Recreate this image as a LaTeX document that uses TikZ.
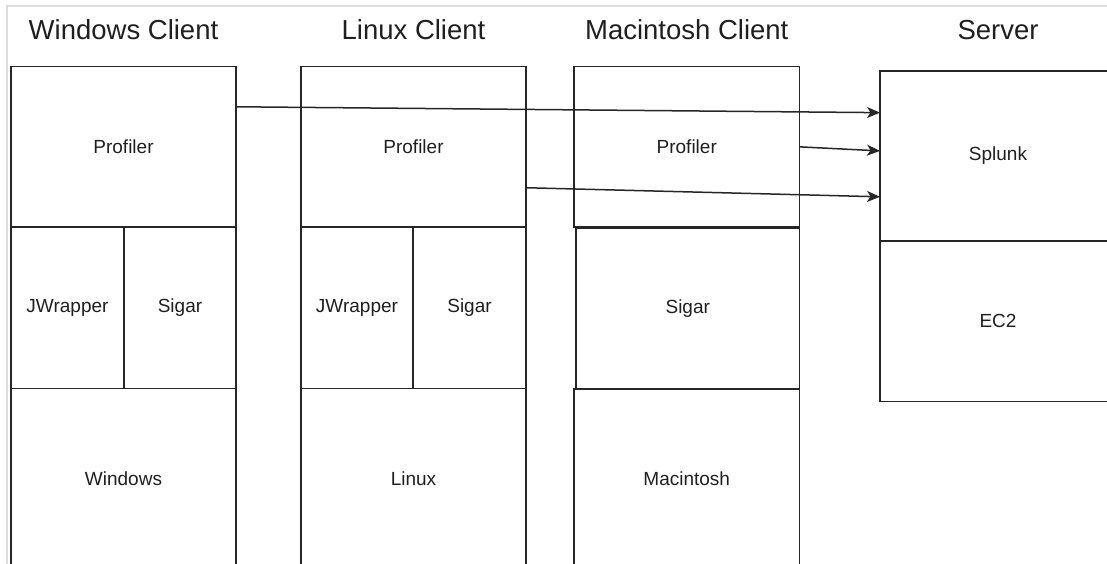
\documentclass[tikz,border=0pt]{standalone}
\usepackage{fontspec}
\setmainfont{Liberation Sans}
\usetikzlibrary{arrows.meta,calc}
\tikzset{
  box/.style={draw=black!85, line width=1.6pt, rectangle, inner sep=0pt, outer sep=0pt,
    font=\fontsize{19}{22}\selectfont, text=black!88},
  title/.style={font=\fontsize{27.5}{32}\selectfont, text=black!88, inner sep=0pt},
  frameline/.style={draw=black!14, line width=1.5pt},
  link/.style={draw=black!85, line width=1.5pt, -{Stealth[length=13pt,width=11pt,inset=3.5pt]}}
}
\begin{document}
\begin{tikzpicture}[x=1pt,y=-1pt]
\useasboundingbox (0,0) rectangle (1107,564);
\draw[frameline] (7,600) -- (7,6) -- (1200,6);

% titles
\node[title] (twin) at (123.5,30) {Windows Client};
\node[title] (tlin) at (413.5,30) {Linux Client};
\node[title] (tmac) at (686.75,30) {Macintosh Client};
\node[title] (tsrv) at (998,30) {Server};

% Windows client
\node[box, minimum width=225pt, minimum height=160.3pt] (wprof) at (123.5,146.85) {Profiler};
\node[box, minimum width=113pt, minimum height=161.5pt] (wjw) at (67.5,307.75) {JWrapper};
\node[box, minimum width=112pt, minimum height=161.5pt] (wsig) at (180,307.75) {Sigar};
\node[box, minimum width=225pt, minimum height=179.5pt] (wos) at (123.5,478.25) {Windows};

% Linux client
\node[box, minimum width=225pt, minimum height=160.3pt] (lprof) at (413.5,146.85) {Profiler};
\node[box, minimum width=112pt, minimum height=161.5pt] (ljw) at (357,307.75) {JWrapper};
\node[box, minimum width=113pt, minimum height=161.5pt] (lsig) at (469.5,307.75) {Sigar};
\node[box, minimum width=225pt, minimum height=179.5pt] (los) at (413.5,478.25) {Linux};

% Macintosh client
\node[box, minimum width=225.5pt, minimum height=160.3pt] (mprof) at (686.75,146.85) {Profiler};
\node[box, minimum width=223.5pt, minimum height=161.3pt] (msig) at (687.75,308.35) {Sigar};
\node[box, minimum width=225.5pt, minimum height=179pt] (mos) at (686.75,478.5) {Macintosh};

% Server
\node[box, minimum width=236pt, minimum height=170pt] (splunk) at (998,156) {Splunk};
\node[box, minimum width=236pt, minimum height=160.5pt] (ec2) at (998,321.25) {EC2};

% connectors
\draw[link] ($(wprof.north east)!0.25!(wprof.south east)$) -- ($(splunk.north west)!0.245!(splunk.south west)$);
\draw[link] ($(mprof.north east)!0.5!(mprof.south east)$) -- ($(splunk.north west)!0.47!(splunk.south west)$);
\draw[link] ($(lprof.north east)!0.755!(lprof.south east)$) -- ($(splunk.north west)!0.74!(splunk.south west)$);
\end{tikzpicture}
\end{document}
